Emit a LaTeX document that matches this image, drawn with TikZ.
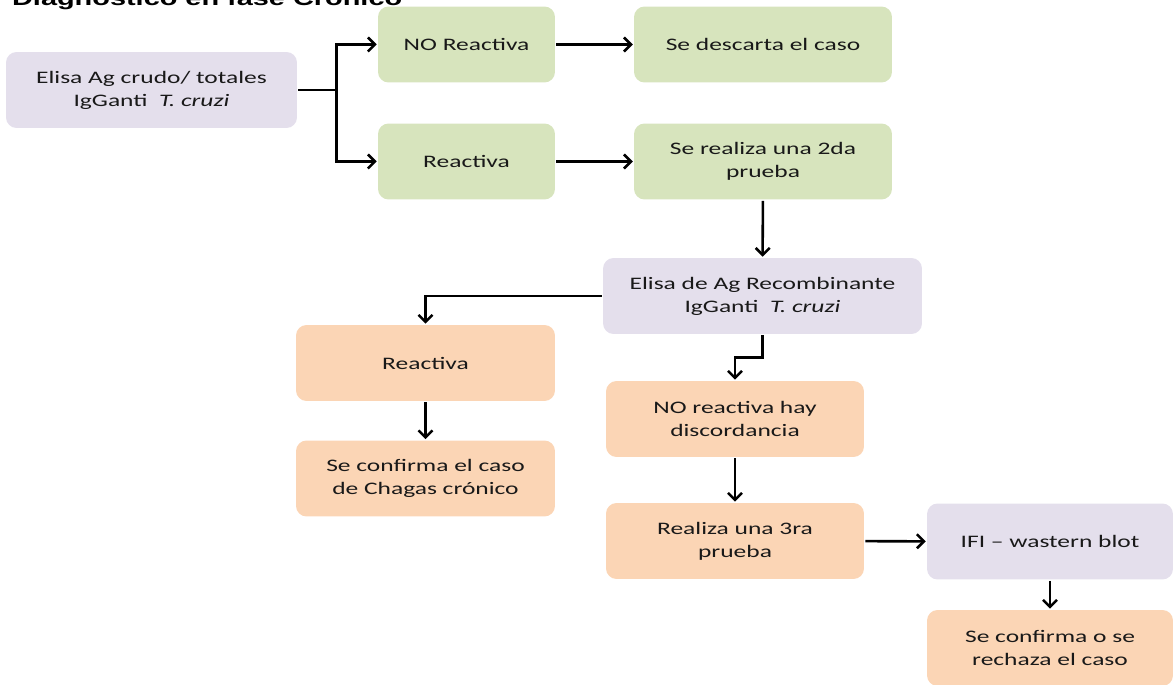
\documentclass[tikz,border=0pt]{standalone}
\usepackage{fontspec}
\setmainfont{Carlito}[FakeStretch=1.45]
\newfontfamily\titlefont{Liberation Sans}[FakeStretch=1.43]
\usetikzlibrary{arrows.meta}
\definecolor{lav}{HTML}{E4DFEC}
\definecolor{grn}{HTML}{D7E4BD}
\definecolor{org}{HTML}{FBD5B5}
\tikzset{>={Straight Barb[length=4pt, width=8pt]}}
\tikzset{box/.style={rounded corners=6pt, align=center, text=black!90,
  font=\fontsize{10}{13}\selectfont, minimum height=1.52cm}}

\begin{document}
\begin{tikzpicture}[x=0.02cm, y=-0.02cm, line width=1.45pt]
    \clip(0, 0)rectangle(1173, 685);
    \node[anchor=base west, font=\titlefont\bfseries\fontsize{11.5}{13}\selectfont](title)at(5, 6){Diagnóstico en fase Crónico};
    \node[box, fill=lav, minimum width=5.82cm](elisa1)at(151.5, 90){Elisa Ag crudo/ totales\\IgGanti\ \ \textit{T. cruzi}};
    \node[box, fill=grn, minimum width=3.54cm](noreac)at(466.5, 44.5){NO Reactiva};
    \node[box, fill=grn, minimum width=5.16cm](descarta)at(763, 44.5){Se descarta el caso};
    \node[box, fill=grn, minimum width=3.54cm](reac1)at(466.5, 161.5){Reactiva};
    \node[box, fill=grn, minimum width=5.16cm](segunda)at(763, 161.5){Se realiza una 2da\\prueba};
    \node[box, fill=lav, minimum width=6.38cm](elisa2)at(762.5, 296){Elisa de Ag Recombinante\\IgGanti\ \ \textit{T. cruzi}};
    \node[box, fill=org, minimum width=5.18cm](reac2)at(425.5, 363){Reactiva};
    \node[box, fill=org, minimum width=5.18cm](confirma)at(425.5, 478.5){Se confirma el caso\\de Chagas crónico};
    \node[box, fill=org, minimum width=5.16cm](noreac2)at(735, 419){NO reactiva hay\\discordancia};
    \node[box, fill=org, minimum width=5.16cm](tercera)at(735, 541){Realiza una 3ra\\prueba};
    \node[box, fill=lav, minimum width=4.92cm](ifi)at(1050, 541.5){IFI -- wastern blot};
    \node[box, fill=org, minimum width=4.92cm](rechaza)at(1050, 648){Se confirma o se\\rechaza el caso};
    \draw(elisa1.east)--++(38, 0)coordinate(split);
    \draw[->](split)|-(noreac.west);
    \draw[->](split)|-(reac1.west);
    \draw[->](noreac)--(descarta);
    \draw[->](reac1)--(segunda);
    \draw[->](segunda)--(elisa2);
    \draw[->](elisa2.west)-|(reac2.north);
    \draw[->](elisa2.south)--++(0, 22)-|(noreac2.north);
    \draw[->](reac2)--(confirma);
    \draw[->](noreac2)--(tercera);
    \draw[->](tercera)--(ifi);
    \draw[->](ifi)--(rechaza);
\end{tikzpicture}
\end{document}
